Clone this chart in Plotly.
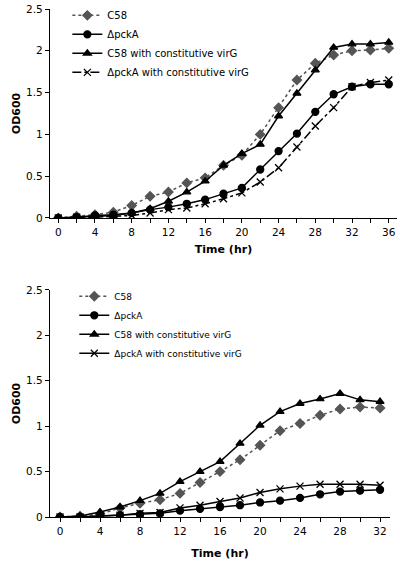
import plotly.graph_objects as go
from plotly.subplots import make_subplots

# ---- data ----
time_top = [0, 2, 4, 6, 8, 10, 12, 14, 16, 18, 20, 22, 24, 26, 28, 30, 32, 34, 36]
c58_top = [0, 0.02, 0.04, 0.07, 0.15, 0.26, 0.31, 0.42, 0.48, 0.63, 0.75, 1.0, 1.32, 1.65, 1.85, 1.95, 2.0, 2.01, 2.03]
pcka_top = [0, 0.01, 0.03, 0.04, 0.06, 0.1, 0.13, 0.17, 0.22, 0.29, 0.36, 0.58, 0.8, 1.01, 1.27, 1.48, 1.57, 1.6, 1.6]
c58virg_top = [0, 0.01, 0.02, 0.03, 0.06, 0.11, 0.2, 0.31, 0.44, 0.63, 0.77, 0.88, 1.22, 1.49, 1.77, 2.04, 2.08, 2.08, 2.1]
pckavirg_top = [0, 0.01, 0.01, 0.02, 0.03, 0.06, 0.1, 0.12, 0.17, 0.23, 0.3, 0.43, 0.6, 0.85, 1.1, 1.32, 1.57, 1.62, 1.65]

time_bot = [0, 2, 4, 6, 8, 10, 12, 14, 16, 18, 20, 22, 24, 26, 28, 30, 32]
c58_bot = [0, 0.01, 0.03, 0.1, 0.15, 0.19, 0.26, 0.38, 0.5, 0.63, 0.79, 0.95, 1.03, 1.12, 1.19, 1.21, 1.2]
pcka_bot = [0, 0, 0.01, 0.02, 0.03, 0.04, 0.07, 0.09, 0.11, 0.13, 0.16, 0.18, 0.21, 0.25, 0.28, 0.29, 0.3]
c58virg_bot = [0, 0.01, 0.055, 0.11, 0.18, 0.26, 0.39, 0.5, 0.61, 0.81, 1.01, 1.16, 1.25, 1.3, 1.36, 1.29, 1.27]
pckavirg_bot = [0, 0, 0.01, 0.02, 0.04, 0.05, 0.1, 0.13, 0.17, 0.21, 0.27, 0.31, 0.34, 0.36, 0.36, 0.36, 0.35]

names = ["C58", "\u0394pckA", "C58 with constitutive virG", "\u0394pckA with constitutive virG"]
y_ticks = [0, 0.5, 1, 1.5, 2, 2.5]
y_ticktext = ["0", "0.5", "1", "1.5", "2", "2.5"]

FONT = "DejaVu Sans"
fig = make_subplots(rows=2, cols=1)

top_styles = [
    dict(dash="dot", symbol="diamond", mcolor="#555555", lcolor="#555555"),
    dict(dash="solid", symbol="circle", mcolor="black", lcolor="black"),
    dict(dash="solid", symbol="triangle-up", mcolor="black", lcolor="black"),
    dict(dash="dashdot", symbol="x-thin", mcolor="black", lcolor="black"),
]
bot_styles = [
    dict(dash="dot", symbol="diamond", mcolor="#555555", lcolor="#555555"),
    dict(dash="solid", symbol="circle", mcolor="black", lcolor="black"),
    dict(dash="solid", symbol="triangle-up", mcolor="black", lcolor="black"),
    dict(dash="solid", symbol="x-thin", mcolor="black", lcolor="black"),
]

for name, ys, st in zip(names, [c58_top, pcka_top, c58virg_top, pckavirg_top], top_styles):
    fig.add_trace(go.Scatter(
        x=time_top, y=ys, name=name, mode="lines+markers", legend="legend",
        line=dict(color=st["lcolor"], width=1.5, dash=st["dash"]),
        marker=dict(symbol=st["symbol"], size=7, color=st["mcolor"],
                    line=dict(color=st["mcolor"], width=1.3)),
    ), row=1, col=1)

for name, ys, st in zip(names, [c58_bot, pcka_bot, c58virg_bot, pckavirg_bot], bot_styles):
    fig.add_trace(go.Scatter(
        x=time_bot, y=ys, name=name, mode="lines+markers", legend="legend2",
        line=dict(color=st["lcolor"], width=1.5, dash=st["dash"]),
        marker=dict(symbol=st["symbol"], size=7, color=st["mcolor"],
                    line=dict(color=st["mcolor"], width=1.3)),
    ), row=2, col=1)

axis_common = dict(showline=True, linecolor="black", linewidth=1.2, showgrid=False,
                   zeroline=False, ticks="outside", ticklen=4, tickcolor="black",
                   automargin=False,
                   tickfont=dict(family=FONT, size=10.5, color="black"))

fig.update_layout(
    width=400, height=569,
    margin=dict(l=50, r=3, t=9, b=52, autoexpand=False),
    paper_bgcolor="white", plot_bgcolor="white",
    font=dict(family=FONT, color="black"),
    xaxis=dict(domain=[0, 1], range=[-0.9, 36.9], tickvals=list(range(0, 37, 4)),
               minor=dict(tickvals=list(range(2, 37, 4)), ticks="outside", ticklen=4, tickcolor="black"),
               title=dict(text="<b>Time (hr)</b>", font=dict(family=FONT, size=11), standoff=8),
               **axis_common),
    yaxis=dict(domain=[0.5886, 1], range=[0, 2.5], tickvals=y_ticks, ticktext=y_ticktext,
               title=dict(text="<b>OD600</b>", font=dict(family=FONT, size=11), standoff=3),
               **axis_common),
    xaxis2=dict(domain=[0, 0.98], range=[-1, 33], tickvals=list(range(0, 33, 4)),
                minor=dict(tickvals=list(range(2, 33, 4)), ticks="outside", ticklen=4, tickcolor="black"),
                title=dict(text="<b>Time (hr)</b>", font=dict(family=FONT, size=11), standoff=13),
                **axis_common),
    yaxis2=dict(domain=[0, 0.4469], range=[0, 2.5], tickvals=y_ticks, ticktext=y_ticktext,
                title=dict(text="<b>OD600</b>", font=dict(family=FONT, size=11), standoff=3),
                **axis_common),
    legend=dict(x=0.05, y=1.016, xanchor="left", yanchor="top", bgcolor="rgba(0,0,0,0)",
                font=dict(family=FONT, size=10), itemwidth=30, tracegroupgap=0),
    legend2=dict(x=0.07, y=0.463, xanchor="left", yanchor="top", bgcolor="rgba(0,0,0,0)",
                 font=dict(family=FONT, size=9), itemwidth=30, tracegroupgap=0),
)

# remove the browser's default 8px body margin so the figure fills the window
fig.write_html("out.html", config={"displayModeBar": False},
               post_script="document.body.style.margin='0px';")
